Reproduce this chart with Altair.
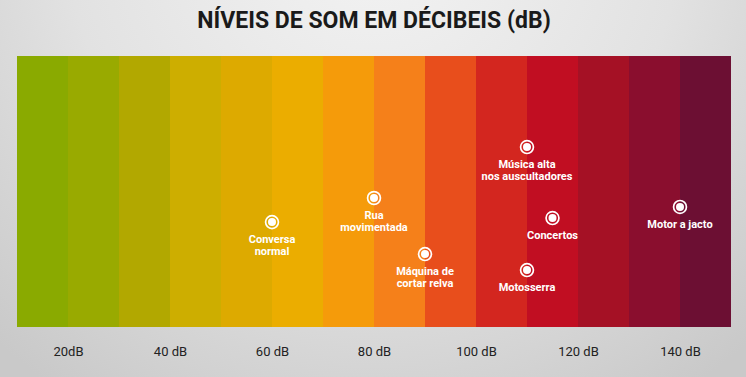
import altair as alt
import pandas as pd

# Bands (10 dB each)
band_start = [10, 20, 30, 40, 50, 60, 70, 80, 90, 100, 110, 120, 130, 140]
band_end = [20, 30, 40, 50, 60, 70, 80, 90, 100, 110, 120, 130, 140, 150]
band_colors = ["#8aaa00", "#99aa00", "#b2a800", "#cdae00", "#ddaa00", "#ebad00", "#f59b0a",
               "#f5801a", "#e84e1c", "#d3261f", "#c10e22", "#a51125", "#8a0e2e", "#6c0f33"]

# Sound sources
source_names = ["Conversa\nnormal", "Rua\nmovimentada", "Máquina de\ncortar relva",
                "Música alta\nnos auscultadores", "Concertos", "Motosserra", "Motor a jacto"]
source_db = [60, 80, 90, 110, 115, 110, 140]
source_row = [3.87, 4.76, 2.69, 6.64, 4.02, 2.10, 4.43]

# Axis ticks
tick_values = [20, 40, 60, 80, 100, 120, 140]
tick_labels = ["20dB", "40 dB", "60 dB", "80 dB", "100 dB", "120 dB", "140 dB"]

bands = pd.DataFrame({"start": band_start, "end": band_end, "color": band_colors})
pts = pd.DataFrame({"db": source_db, "row": source_row, "name": source_names})

xscale = alt.Scale(domain=[10, 150], nice=False, zero=False)
yscale = alt.Scale(domain=[0, 10], nice=False)

label_expr = " : ".join(
    [f"datum.value == {v} ? '{l}'" for v, l in zip(tick_values, tick_labels)]
) + " : ''"

bg = alt.Chart(alt.Data(values=[{}])).mark_rect(
    clip=False,
    fill=alt.RadialGradient(
        gradient="radial",
        stops=[alt.GradientStop(color="#f4f4f4", offset=0),
               alt.GradientStop(color="#e2e2e2", offset=0.55),
               alt.GradientStop(color="#c9c9c9", offset=1)],
        x1=0.5, y1=0.15, x2=0.5, y2=0.15, r1=0, r2=0.75,
    ),
).encode(x=alt.value(-17), x2=alt.value(729), y=alt.value(-56), y2=alt.value(321))

rects = alt.Chart(bands).mark_rect().encode(
    x=alt.X("start:Q", scale=xscale,
            axis=alt.Axis(values=tick_values, labelExpr=label_expr, ticks=False, domain=False,
                          grid=False, title=None, labelFontSize=13, labelColor="#222222",
                          labelFont="Roboto", labelPadding=18, labelFlush=False, zindex=2)),
    x2="end:Q",
    color=alt.Color("color:N", scale=None),
)

ring = alt.Chart(pts).mark_point(shape="circle", filled=False, stroke="white",
                                 strokeWidth=1.7, size=165, opacity=1).encode(
    x=alt.X("db:Q", scale=xscale),
    y=alt.Y("row:Q", scale=yscale, axis=None),
)
dot = alt.Chart(pts).mark_point(shape="circle", filled=True, fill="white",
                                size=64, opacity=1, strokeWidth=0).encode(
    x=alt.X("db:Q", scale=xscale),
    y=alt.Y("row:Q", scale=yscale, axis=None),
)
labels = alt.Chart(pts).mark_text(color="white", font="Roboto", fontWeight="bold",
                                  fontSize=11, lineBreak="\n", lineHeight=12,
                                  baseline="top", dy=12).encode(
    x=alt.X("db:Q", scale=xscale),
    y=alt.Y("row:Q", scale=yscale, axis=None),
    text="name:N",
)

chart = alt.layer(bg, rects, ring, dot, labels).properties(
    width=714, height=271,
    title=alt.TitleParams("NÍVEIS DE SOM EM DÉCIBEIS (dB)", font="Roboto", fontSize=23,
                          fontWeight="bold", color="#1a1a1a", anchor="middle", offset=-33,
                          zindex=2),
    padding={"left": 17, "top": 56, "right": 15, "bottom": 50},
    autosize=alt.AutoSizeParams(type="none"),
).configure(background="#dcdcdc").configure_view(stroke=None)

chart.save("out.html", embed_options={"renderer": "svg", "actions": False})
